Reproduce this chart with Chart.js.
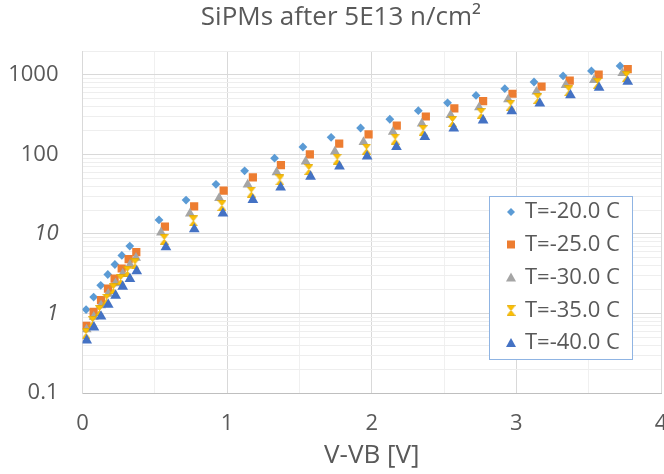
<!DOCTYPE html>
<html>
<head>
<meta charset="utf-8">
<script src="https://cdn.jsdelivr.net/npm/chart.js@4.4.0/dist/chart.umd.min.js"></script>
<style>
  html, body { margin: 0; padding: 0; background: #fff; }
  #wrap { width: 664px; height: 474px; }
</style>
</head>
<body>
<div id="wrap"><canvas id="sipmChart" width="664" height="474"></canvas></div>
<script>
// ===== data =====
const chartTitle = "SiPMs after 5E13 n/cm\u00B2";
const seriesLabels = ["T=-20.0 C", "T=-25.0 C", "T=-30.0 C", "T=-35.0 C", "T=-40.0 C"];

const x20 = [0.025, 0.077, 0.126, 0.175, 0.224, 0.272, 0.327,
  0.529, 0.716, 0.923, 1.121, 1.328, 1.524, 1.719, 1.923, 2.125, 2.322, 2.524, 2.721, 2.920, 3.122, 3.323, 3.519, 3.717];
const y20 = [1.12, 1.61, 2.26, 3.09, 4.13, 5.37, 7.05,
  15.0, 26.7, 42.1, 62.2, 89.8, 124, 164, 215, 277, 355, 446, 553, 671, 815, 971, 1124, 1300];

const x25 = [0.027, 0.077, 0.128, 0.176, 0.222, 0.271, 0.319, 0.372,
  0.570, 0.772, 0.976, 1.178, 1.372, 1.572, 1.775, 1.978, 2.173, 2.374, 2.571, 2.770, 2.973, 3.174, 3.369, 3.569, 3.770];
const y25 = [0.70, 1.05, 1.47, 2.05, 2.75, 3.68, 4.83, 5.92,
  12.4, 22.2, 35.0, 51.6, 73.2, 100, 137, 179, 231, 300, 379, 469, 580, 711, 847, 1009, 1181];

const x30 = [0.028, 0.078, 0.128, 0.178, 0.228, 0.278, 0.328, 0.370,
  0.543, 0.743, 0.945, 1.142, 1.342, 1.543, 1.745, 1.943, 2.146, 2.346, 2.545, 2.742, 2.943, 3.139, 3.341, 3.537, 3.733];
const y30 = [0.63, 0.91, 1.27, 1.77, 2.40, 3.15, 4.10, 5.00,
  10.4, 18.1, 28.3, 41.7, 59.7, 81.5, 109, 143, 192, 245, 312, 390, 492, 615, 747, 864, 1051];

const x35 = [0.024, 0.070, 0.117, 0.167, 0.213, 0.264, 0.310, 0.363,
  0.565, 0.766, 0.964, 1.167, 1.365, 1.565, 1.761, 1.964, 2.162, 2.355, 2.558, 2.756, 2.961, 3.148, 3.362, 3.561, 3.761];
const y35 = [0.56, 0.79, 1.09, 1.52, 2.05, 2.67, 3.40, 4.21,
  8.57, 14.6, 22.8, 33.7, 47.8, 64.6, 87.3, 117, 156, 201, 259, 327, 417, 507, 632, 785, 951];

const x40 = [0.029, 0.079, 0.128, 0.178, 0.229, 0.278, 0.328, 0.375,
  0.577, 0.773, 0.971, 1.178, 1.370, 1.577, 1.777, 1.968, 2.171, 2.367, 2.567, 2.770, 2.968, 3.162, 3.374, 3.572, 3.770];
const y40 = [0.46, 0.67, 0.92, 1.29, 1.68, 2.18, 2.72, 3.40,
  6.84, 11.5, 18.1, 26.9, 38.5, 52.7, 70.5, 94.3, 124, 166, 212, 269, 350, 438, 558, 691, 823];

const yTickValues = [0.1, 0.2, 0.3, 0.4, 0.5, 0.6, 0.7, 0.8, 0.9,
  1, 2, 3, 4, 5, 6, 7, 8, 9, 10, 20, 30, 40, 50, 60, 70, 80, 90,
  100, 200, 300, 400, 500, 600, 700, 800, 900, 1000, 2000];
const yTickLabels = { 0.1: "0.1", 1: "1", 10: "10", 100: "100", 1000: "1000" };

// ===== styling =====
const FONT = "'Open Sans', sans-serif";
const TEXT = "#595959";
const colors = ["#5B9BD5", "#ED7D31", "#A5A5A5", "#FFC000", "#4472C4"];

// hourglass marker (no built-in style for it)
function hourglass(size, color) {
  const c = document.createElement("canvas");
  c.width = size; c.height = size + 2;
  const g = c.getContext("2d");
  const w = size, h = size + 2;
  g.fillStyle = color;
  g.strokeStyle = "#E0A800";
  g.lineWidth = 0.8;
  g.beginPath();
  g.moveTo(0.5, 0.5); g.lineTo(w - 0.5, 0.5); g.lineTo(w / 2, h / 2);
  g.closePath(); g.fill(); g.stroke();
  g.beginPath();
  g.moveTo(0.5, h - 0.5); g.lineTo(w - 0.5, h - 0.5); g.lineTo(w / 2, h / 2);
  g.closePath(); g.fill(); g.stroke();
  return c;
}

const styles = [
  { pointStyle: "rectRot", radius: 4.4 },
  { pointStyle: "rect", radius: 5.8 },
  { pointStyle: "triangle", radius: 5.8 },
  { pointStyle: hourglass(9, colors[3]), radius: 5 },
  { pointStyle: "triangle", radius: 6.2 }
];

const xs = [x20, x25, x30, x35, x40];
const ys = [y20, y25, y30, y35, y40];

const datasets = seriesLabels.map((label, s) => ({
  label: label,
  data: xs[s].map((x, i) => ({ x: x, y: ys[s][i] })),
  pointStyle: styles[s].pointStyle,
  pointRadius: styles[s].radius,
  pointHoverRadius: styles[s].radius,
  pointBackgroundColor: colors[s],
  pointBorderColor: colors[s],
  pointBorderWidth: 0,
  showLine: false,
  order: 5 - s
}));

// ===== title + legend box drawn by hand =====
const decorations = {
  id: "decorations",
  afterDraw(chart) {
    const ctx = chart.ctx;
    ctx.save();
    // title, a little right of the canvas centre like the original
    ctx.font = "26px " + FONT;
    ctx.fillStyle = TEXT;
    ctx.textAlign = "center";
    ctx.textBaseline = "middle";
    ctx.fillText(chartTitle, 341, 18);

    const bx = 489, by = 196, bw = 143, bh = 163;
    ctx.fillStyle = "#fff";
    ctx.fillRect(bx, by, bw, bh);
    ctx.strokeStyle = "#8FB4E3";
    ctx.lineWidth = 1;
    ctx.strokeRect(bx + 0.5, by + 0.5, bw, bh);
    ctx.font = "22px " + FONT;
    ctx.textAlign = "left";
    const rowY = [212, 244.5, 277.5, 310.5, 343];
    const mx = 511;
    seriesLabels.forEach((label, s) => {
      const y = rowY[s];
      ctx.fillStyle = colors[s];
      ctx.beginPath();
      if (s === 0) {
        ctx.moveTo(mx, y - 4); ctx.lineTo(mx + 4, y); ctx.lineTo(mx, y + 4); ctx.lineTo(mx - 4, y);
      } else if (s === 1) {
        ctx.rect(mx - 4, y - 4, 8, 8);
      } else if (s === 2 || s === 4) {
        ctx.moveTo(mx, y - 5); ctx.lineTo(mx + 5, y + 4); ctx.lineTo(mx - 5, y + 4);
      }
      ctx.closePath();
      ctx.fill();
      if (s === 3) {
        ctx.drawImage(styles[3].pointStyle, mx - 4.5, y - 5.5);
      }
      ctx.fillStyle = TEXT;
      ctx.fillText(label, 525, y);
    });
    ctx.restore();
  }
};

const isDecade = v => yTickLabels[v] !== undefined;

new Chart(document.getElementById("sipmChart").getContext("2d"), {
  type: "scatter",
  data: { datasets: datasets },
  plugins: [decorations],
  options: {
    responsive: false,
    animation: false,
    layout: { autoPadding: false, padding: { top: 51, right: 3, left: 0, bottom: 0 } },
    plugins: {
      legend: { display: false },
      tooltip: { enabled: false },
      title: { display: false }
    },
    scales: {
      x: {
        type: "linear",
        min: 0,
        max: 4,
        afterFit: scale => { scale.height = 81; scale.paddingRight = 0; scale.paddingLeft = 0; },
        ticks: {
          stepSize: 0.5,
          autoSkip: false,
          maxRotation: 0,
          padding: 18,
          color: TEXT,
          font: { family: FONT, size: 22 },
          callback: v => (Number.isInteger(v) ? String(v) : "")
        },
        grid: {
          drawTicks: false,
          color: ctx => (ctx.tick && Number.isInteger(ctx.tick.value) ? "#d9d9d9" : "#f0f0f0")
        },
        border: { color: "#bfbfbf" },
        title: {
          display: true,
          text: "V-VB [V]",
          color: TEXT,
          font: { family: FONT, size: 26 },
          padding: { top: 0, bottom: 3 }
        }
      },
      y: {
        type: "logarithmic",
        min: 0.1,
        max: 2000,
        afterFit: scale => { scale.width = 82.5; scale.paddingTop = 0; scale.paddingBottom = 0; },
        afterBuildTicks: scale => {
          scale.ticks = yTickValues.map(v => ({ value: v }));
        },
        ticks: {
          autoSkip: false,
          padding: 24,
          color: TEXT,
          font: ctx => ({
            family: FONT,
            size: 22,
            style: ctx.tick && (ctx.tick.value === 10 || ctx.tick.value === 1) ? "italic" : "normal"
          }),
          callback: v => (isDecade(v) ? yTickLabels[v] : "")
        },
        grid: {
          drawTicks: false,
          color: ctx => (ctx.tick && isDecade(ctx.tick.value) ? "#d9d9d9" : "#eeeeee")
        },
        border: { color: "#d9d9d9" }
      }
    }
  }
});
</script>
</body>
</html>
